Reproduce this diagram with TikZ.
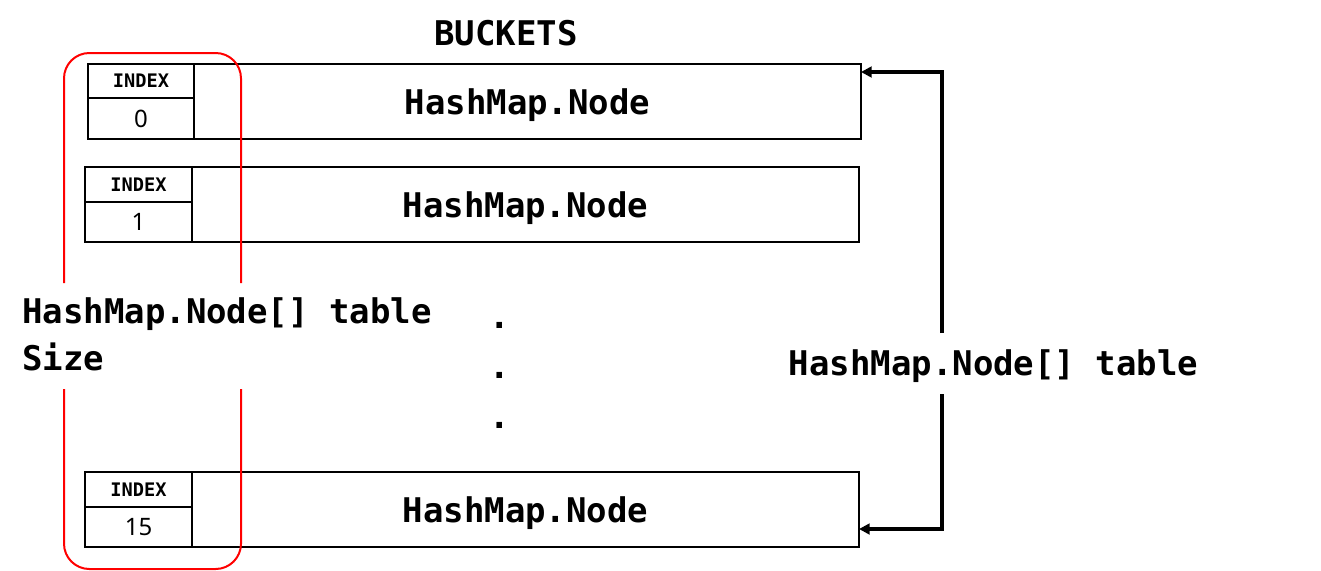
\documentclass[tikz,border=0pt]{standalone}
\usepackage{fontspec}
\setmainfont{Noto Sans}
\newfontfamily\monofam{DejaVu Sans Mono}
\usetikzlibrary{arrows.meta}
\begin{document}
\begin{tikzpicture}[x=0.75pt,y=-0.75pt,
  cell/.style={draw=black,line width=1.5pt,inner sep=0pt,outer sep=0pt},
  idxtop/.style={cell,minimum width=80pt,font=\monofam\bfseries\fontsize{14}{16}\selectfont},
  idxnum/.style={cell,minimum width=80pt,font=\fontsize{18}{20}\selectfont},
  mainbox/.style={cell,minimum width=500.25pt,minimum height=56.25pt,text depth=0pt,font=\monofam\bfseries\fontsize{25.5}{30}\selectfont},
  bigtxt/.style={font=\monofam\bfseries\fontsize{25.5}{30}\selectfont,inner sep=0pt},
  redbox/.style={draw=red,line width=1.5pt,rounded corners=19pt},
  arr/.style={line width=2.6pt,-{Triangle[length=8pt,width=8pt]}}
]
\useasboundingbox (0,0) rectangle (1321,571);
% title
\node[bigtxt,anchor=base] (title) at (506,45) {BUCKETS};
% row 0
\node[mainbox] (r0main) at (527.5,101.5) {HashMap.Node};
\node[idxtop,minimum height=25.5pt] (r0top) at (141,81) {INDEX};
\node[idxnum,minimum height=30.75pt] (r0num) at (141,118.5) {0};
% row 1
\node[mainbox] (r1main) at (525.5,204.5) {HashMap.Node};
\node[idxtop,minimum height=26.25pt] (r1top) at (138.5,184.5) {INDEX};
\node[idxnum,minimum height=30pt] (r1num) at (138.5,222) {1};
% row 15
\node[mainbox] (r15main) at (525.5,509.5) {HashMap.Node};
\node[idxtop,minimum height=26.25pt] (r15top) at (138.5,489.5) {INDEX};
\node[idxnum,minimum height=30pt] (r15num) at (138.5,527) {15};
% dots
\node[bigtxt,anchor=base] (d1) at (500,328) {.};
\node[bigtxt,anchor=base] (d2) at (500,378) {.};
\node[bigtxt,anchor=base] (d3) at (500,428) {.};
% red frame with gaps
\draw[redbox] (64,283) -- (64,53) -- (241,53) -- (241,283);
\draw[redbox] (64,389) -- (64,569) -- (241,569) -- (241,389);
% left label
\node[bigtxt,anchor=base west,align=left] (sizelab) at (22,370) {HashMap.Node[] table\\[5pt]Size};
% right label and arrows
\node[bigtxt,anchor=base] (tablab) at (993.5,375) {HashMap.Node[] table};
\coordinate (up) at (942,333);
\coordinate (down) at (942,394);
\coordinate (t0) at (861,72);
\coordinate (t15) at (859,529);
\draw[arr] (up) |- (t0);
\draw[arr] (down) |- (t15);
\end{tikzpicture}
\end{document}
